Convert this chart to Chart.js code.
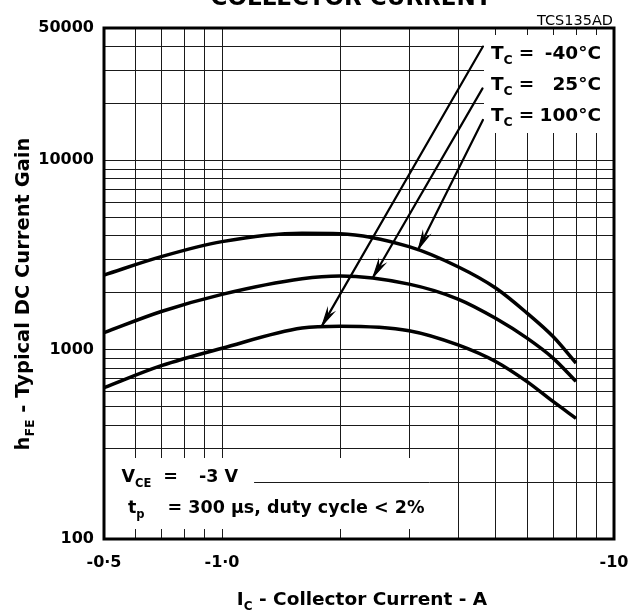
<!DOCTYPE html>
<html>
<head>
<meta charset="utf-8">
<script src="https://cdn.jsdelivr.net/npm/chart.js@4/dist/chart.umd.min.js"></script>
<style>
  html, body { margin: 0; padding: 0; background: #fff; }
  canvas { display: block; }
</style>
</head>
<body>
<canvas id="gainChart" width="635" height="613"></canvas>
<script>
// collector current (A, magnitude) and typical hFE
const icValues = [0.5, 0.7, 1.0, 1.6, 2, 3, 4, 5, 6, 7, 8];
const gain100 = [2480, 3100, 3720, 4120, 4100, 3500, 2740, 2110, 1560, 1170, 850];
const gain25 = [1230, 1590, 1960, 2370, 2450, 2220, 1850, 1460, 1150, 900, 680];
const gainMinus40 = [630, 823, 1017, 1300, 1330, 1260, 1060, 864, 678, 531, 434];

const xTicks = [0.5, 0.6, 0.7, 0.8, 0.9, 1, 2, 3, 4, 5, 6, 7, 8, 9, 10];
const xLabels = { 0.5: "-0·5", 1: "-1·0", 10: "-10" };
const yTicks = [100, 200, 300, 400, 500, 600, 700, 800, 900,
                1000, 2000, 3000, 4000, 5000, 6000, 7000, 8000, 9000,
                10000, 20000, 30000, 40000, 50000];
const yLabels = { 100: "100", 1000: "1000", 10000: "10000", 50000: "50000" };

// arrows: label end -> point on the curve (data units)
const arrows = [
  { from: [4.63, 39900], to: [1.80, 1340] },
  { from: [4.62, 24000], to: [2.43, 2420] },
  { from: [4.63, 16350], to: [3.17, 3400] }
];
const tempLabels = ["-40°C", "25°C", "100°C"];

const FONT = '"DejaVu Sans"';
const GRID = "#1a1a1a";

function toPoints(vals) {
  return icValues.map((x, i) => ({ x: x, y: vals[i] }));
}

// parts: [text, size, dy] or {gap: px}
function richWidth(ctx, parts) {
  let w = 0;
  parts.forEach(p => {
    if (p.gap) { w += p.gap; return; }
    ctx.font = "bold " + p[1] + "px " + FONT;
    w += ctx.measureText(p[0]).width;
  });
  return w;
}
function drawRich(ctx, parts, x, y) {
  ctx.textAlign = "left";
  ctx.textBaseline = "alphabetic";
  parts.forEach(p => {
    if (p.gap) { x += p.gap; return; }
    ctx.font = "bold " + p[1] + "px " + FONT;
    ctx.fillText(p[0], x, y + (p[2] || 0));
    x += ctx.measureText(p[0]).width;
  });
  return x;
}

// narrow barbed head
function arrowHead(ctx, x0, y0, x1, y1) {
  const ang = Math.atan2(y1 - y0, x1 - x0);
  const len = 17, spread = 0.21, notch = 11;
  ctx.beginPath();
  ctx.moveTo(x1, y1);
  ctx.lineTo(x1 - len * Math.cos(ang - spread), y1 - len * Math.sin(ang - spread));
  ctx.lineTo(x1 - notch * Math.cos(ang), y1 - notch * Math.sin(ang));
  ctx.lineTo(x1 - len * Math.cos(ang + spread), y1 - len * Math.sin(ang + spread));
  ctx.closePath();
  ctx.fill();
  ctx.stroke();
}

const notesPlugin = {
  id: "notes",
  beforeDatasetsDraw(chart) {
    const ctx = chart.ctx, area = chart.chartArea;
    const xs = chart.scales.x, ys = chart.scales.y;
    ctx.save();
    ctx.fillStyle = "#fff";

    // box behind the temperature labels
    ctx.fillRect(484, 35, area.right - 484, 98);

    // box behind the test conditions
    const row1 = [["V", 17.5], ["CE", 11.5, 5], { gap: 12 }, ["=", 17.5], { gap: 21 }, ["-3 V", 17.5]];
    const row2 = [["t", 17.5], ["p", 11.5, 5], { gap: 23 }, ["= 300 µs, duty cycle < 2%", 17.5]];
    const r1End = 121.5 + richWidth(ctx, row1);
    const r2End = 128 + richWidth(ctx, row2);
    ctx.fillStyle = "#fff";
    ctx.fillRect(area.left, 458, r2End + 5 - area.left, 71);
    // the 200 grid line runs through the box after the first row
    const y200 = Math.round(ys.getPixelForValue(200)) + 0.5;
    ctx.strokeStyle = GRID;
    ctx.lineWidth = 1;
    ctx.beginPath();
    ctx.moveTo(r1End + 16, y200);
    ctx.lineTo(r2End + 5, y200);
    ctx.stroke();

    ctx.fillStyle = "#000";
    drawRich(ctx, row1, 121.5, 481.5);
    drawRich(ctx, row2, 128, 513);

    // arrows
    ctx.strokeStyle = "#000";
    ctx.fillStyle = "#000";
    ctx.lineWidth = 2.2;
    ctx.lineCap = "round";
    ctx.lineJoin = "miter";
    arrows.forEach(a => {
      const x0 = xs.getPixelForValue(a.from[0]), y0 = ys.getPixelForValue(a.from[1]);
      const x1 = xs.getPixelForValue(a.to[0]), y1 = ys.getPixelForValue(a.to[1]);
      ctx.beginPath();
      ctx.moveTo(x0, y0);
      ctx.lineTo(x1, y1);
      ctx.stroke();
      ctx.lineWidth = 1.2;
      arrowHead(ctx, x0, y0, x1, y1);
      ctx.lineWidth = 2.2;
    });
    ctx.restore();
  },
  afterDraw(chart) {
    const ctx = chart.ctx, area = chart.chartArea;
    ctx.save();
    ctx.fillStyle = "#000";

    // temperature labels
    tempLabels.forEach((t, i) => {
      const base = 59 + i * 31;
      drawRich(ctx, [["T", 18.5], ["C", 12.5, 5], { gap: 6 }, ["=", 18.5]], 491, base);
      ctx.font = "bold 18.5px " + FONT;
      ctx.textAlign = "right";
      ctx.fillText(t, 601, base);
    });

    // title (cut off at the top edge) and drawing code
    ctx.textAlign = "center";
    ctx.textBaseline = "alphabetic";
    ctx.font = "bold 23px " + FONT;
    ctx.fillText("COLLECTOR CURRENT", 351, 5);
    ctx.textAlign = "right";
    ctx.font = "14.5px " + FONT;
    ctx.fillText("TCS135AD", 613, 25);

    // x axis title
    const xt = [["I", 18.5], ["C", 12, 5], [" - Collector Current - A", 18.5]];
    drawRich(ctx, xt, 362 - richWidth(ctx, xt) / 2, 605);

    // y axis title
    const yt = [["h", 19.5], ["FE", 12.5, 5], [" - Typical DC Current Gain", 19.5]];
    ctx.translate(29, 294);
    ctx.rotate(-Math.PI / 2);
    drawRich(ctx, yt, -richWidth(ctx, yt) / 2, 0);
    ctx.restore();

    // frame
    ctx.save();
    ctx.strokeStyle = "#000";
    ctx.lineWidth = 3;
    ctx.strokeRect(area.left, area.top, area.right - area.left, area.bottom - area.top);
    ctx.restore();
  }
};

const curveStyle = {
  borderColor: "#000",
  borderWidth: 3.5,
  pointRadius: 0,
  fill: false,
  cubicInterpolationMode: "monotone"
};

new Chart(document.getElementById("gainChart"), {
  type: "line",
  data: {
    datasets: [
      Object.assign({ label: "TC = 100°C", data: toPoints(gain100) }, curveStyle),
      Object.assign({ label: "TC = 25°C", data: toPoints(gain25) }, curveStyle),
      Object.assign({ label: "TC = -40°C", data: toPoints(gainMinus40) }, curveStyle)
    ]
  },
  options: {
    responsive: false,
    animation: false,
    devicePixelRatio: 1,
    layout: { padding: { top: 28, right: 21, left: 0, bottom: 0 } },
    plugins: { legend: { display: false }, tooltip: { enabled: false } },
    scales: {
      x: {
        type: "logarithmic",
        min: 0.5,
        max: 10,
        afterBuildTicks: s => { s.ticks = xTicks.map(v => ({ value: v })); },
        afterFit: s => { s.height = 74; s.paddingLeft = 0; s.paddingRight = 0; },
        grid: { color: GRID, lineWidth: 1, drawTicks: false },
        border: { display: false },
        ticks: {
          autoSkip: false,
          maxRotation: 0,
          padding: 14,
          color: "#000",
          font: { family: FONT, size: 16, weight: "bold" },
          callback: v => xLabels[v] || ""
        }
      },
      y: {
        type: "logarithmic",
        min: 100,
        max: 50000,
        afterBuildTicks: s => { s.ticks = yTicks.map(v => ({ value: v })); },
        afterFit: s => { s.width = 104; s.paddingTop = 0; s.paddingBottom = 0; },
        grid: { color: GRID, lineWidth: 1, drawTicks: false },
        border: { display: false },
        ticks: {
          autoSkip: false,
          padding: 10,
          color: "#000",
          font: { family: FONT, size: 16, weight: "bold" },
          callback: v => yLabels[v] || ""
        }
      }
    }
  },
  plugins: [notesPlugin]
});
</script>
</body>
</html>
